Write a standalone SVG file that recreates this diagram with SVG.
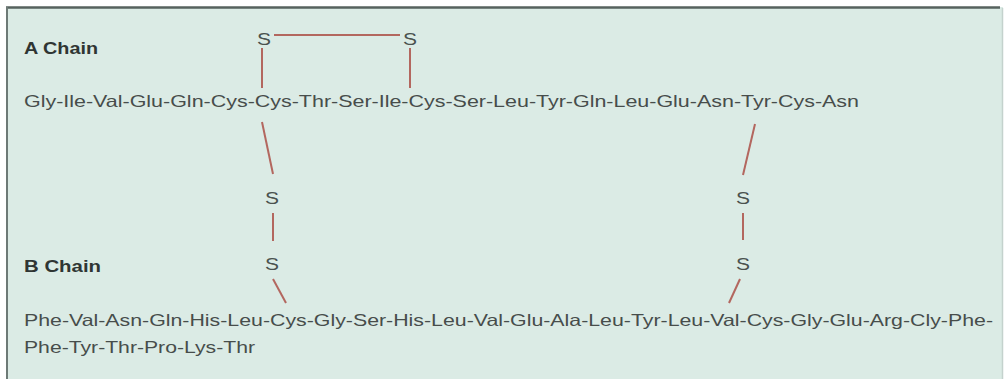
<svg xmlns="http://www.w3.org/2000/svg" width="1006" height="379" viewBox="0 0 1006 379">
  <style>
    .seq { font-family: "Liberation Sans", Arial, sans-serif; font-size: 16.5px; fill: #474d4b; }
    .label { font-family: "Liberation Sans", Arial, sans-serif; font-size: 16px; font-weight: bold; fill: #2f3533; }
    .s { font-family: "Liberation Sans", Arial, sans-serif; font-size: 16px; fill: #4a524f; text-anchor: middle; }
    .bond { stroke: #b3675f; stroke-width: 2; fill: none; stroke-linecap: butt; }
  </style>

  <!-- panel -->
  <rect x="0" y="0" width="1006" height="379" fill="#ffffff"/>
  <rect x="7" y="7" width="996" height="372" fill="#dbebe5"/>
  <line x1="6" y1="7.5" x2="1000" y2="7.5" stroke="#56625e" stroke-width="2.5"/>
  <line x1="7" y1="7" x2="7" y2="379" stroke="#6d7a76" stroke-width="2"/>
  <line x1="1002.5" y1="8" x2="1002.5" y2="379" stroke="#c4d2cd" stroke-width="1.5"/>

  <!-- disulfide bonds -->
  <g id="connectors">
    <line class="bond" x1="274" y1="35" x2="400" y2="35"/>
    <line class="bond" x1="262" y1="48" x2="262" y2="88"/>
    <line class="bond" x1="410" y1="48" x2="410" y2="88"/>
    <line class="bond" x1="262" y1="122" x2="273" y2="174"/>
    <line class="bond" x1="273" y1="213" x2="273" y2="241"/>
    <line class="bond" x1="273" y1="279" x2="286" y2="303"/>
    <line class="bond" x1="755" y1="124" x2="743" y2="175"/>
    <line class="bond" x1="743" y1="213" x2="743" y2="240"/>
    <line class="bond" x1="740" y1="279" x2="729" y2="303"/>
  </g>

  <!-- A chain -->
  <g id="a-chain-label">
    <text class="label" x="24" y="54" textLength="74" lengthAdjust="spacingAndGlyphs">A Chain</text>
  </g>
  <g id="a-chain">
    <text class="seq" x="24" y="107" textLength="835" lengthAdjust="spacingAndGlyphs">Gly-Ile-Val-Glu-Gln-Cys-Cys-Thr-Ser-Ile-Cys-Ser-Leu-Tyr-Gln-Leu-Glu-Asn-Tyr-Cys-Asn</text>
  </g>

  <!-- sulfur atoms -->
  <g id="s-a6"><text class="s" x="264" y="45" textLength="14" lengthAdjust="spacingAndGlyphs">S</text></g>
  <g id="s-a11"><text class="s" x="410" y="45" textLength="14" lengthAdjust="spacingAndGlyphs">S</text></g>
  <g id="s-a7"><text class="s" x="272" y="204" textLength="14" lengthAdjust="spacingAndGlyphs">S</text></g>
  <g id="s-b7"><text class="s" x="272" y="270" textLength="14" lengthAdjust="spacingAndGlyphs">S</text></g>
  <g id="s-a20"><text class="s" x="743" y="204" textLength="14" lengthAdjust="spacingAndGlyphs">S</text></g>
  <g id="s-b19"><text class="s" x="743" y="270" textLength="14" lengthAdjust="spacingAndGlyphs">S</text></g>

  <!-- B chain -->
  <g id="b-chain-label">
    <text class="label" x="24" y="272" textLength="77" lengthAdjust="spacingAndGlyphs">B Chain</text>
  </g>
  <g id="b-chain">
    <text class="seq" x="24" y="326" textLength="969" lengthAdjust="spacingAndGlyphs">Phe-Val-Asn-Gln-His-Leu-Cys-Gly-Ser-His-Leu-Val-Glu-Ala-Leu-Tyr-Leu-Val-Cys-Gly-Glu-Arg-Cly-Phe-</text>
    <text class="seq" x="24" y="353" textLength="231" lengthAdjust="spacingAndGlyphs">Phe-Tyr-Thr-Pro-Lys-Thr</text>
  </g>
</svg>
